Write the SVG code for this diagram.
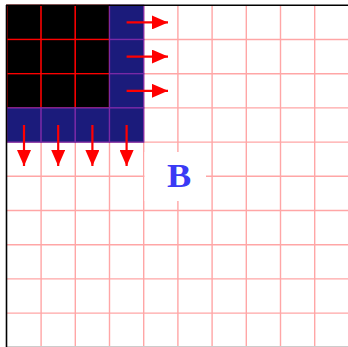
<svg xmlns="http://www.w3.org/2000/svg" width="348" height="347" viewBox="0 0 348 347">
<style>
.grid{stroke:#ffa6a6;stroke-width:1.4;fill:none}
.blk{fill:#000;stroke:#ff0000;stroke-width:1.3}
.blu{fill:#1b1b7b;stroke:#7a2aa6;stroke-width:1.3}
.arr{stroke:#ff0000;stroke-width:2.2;fill:none;marker-end:url(#ah)}
.lbl{font-family:"Liberation Serif",serif;font-size:33px;font-weight:bold;fill:#3a3af5}
</style>
<defs>
<marker id="ah" markerUnits="userSpaceOnUse" markerWidth="16" markerHeight="14" refX="16" refY="7" orient="auto">
<path d="M0,0 L16,7 L0,14 Z" fill="#ff0000"/>
</marker>
</defs>
<rect x="0" y="0" width="348" height="347" fill="#fff"/>
<g id="grid" class="grid">
<path d="M41.1,5 V347 M75.3,5 V347 M109.5,5 V347 M143.7,5 V347 M177.9,5 V347 M212.1,5 V347 M246.3,5 V347 M280.5,5 V347 M314.7,5 V347"/>
<path d="M7,39.5 H348 M7,73.7 H348 M7,107.9 H348 M7,142.1 H348 M7,176.3 H348 M7,210.5 H348 M7,244.7 H348 M7,278.9 H348 M7,313.1 H348"/>
<path d="M7,346.6 H348" stroke="#cccccc"/>
</g>
<g id="black-cells">
<rect class="blk" x="6.9" y="5.3" width="34.2" height="34.2"/>
<rect class="blk" x="41.1" y="5.3" width="34.2" height="34.2"/>
<rect class="blk" x="75.3" y="5.3" width="34.2" height="34.2"/>
<rect class="blk" x="6.9" y="39.5" width="34.2" height="34.2"/>
<rect class="blk" x="41.1" y="39.5" width="34.2" height="34.2"/>
<rect class="blk" x="75.3" y="39.5" width="34.2" height="34.2"/>
<rect class="blk" x="6.9" y="73.7" width="34.2" height="34.2"/>
<rect class="blk" x="41.1" y="73.7" width="34.2" height="34.2"/>
<rect class="blk" x="75.3" y="73.7" width="34.2" height="34.2"/>
</g>
<g id="blue-cells">
<rect class="blu" x="109.5" y="5.3" width="34.2" height="34.2"/>
<rect class="blu" x="109.5" y="39.5" width="34.2" height="34.2"/>
<rect class="blu" x="109.5" y="73.7" width="34.2" height="34.2"/>
<rect class="blu" x="6.9" y="107.9" width="34.2" height="34.2"/>
<rect class="blu" x="41.1" y="107.9" width="34.2" height="34.2"/>
<rect class="blu" x="75.3" y="107.9" width="34.2" height="34.2"/>
<rect class="blu" x="109.5" y="107.9" width="34.2" height="34.2"/>
</g>
<g id="axes">
<path d="M6.5,5 V347" stroke="#000" stroke-width="1.6"/>
<path d="M6,5.3 H348" stroke="#000" stroke-width="1.6"/>
</g>
<g id="connectors">
<path class="arr" d="M126.6,22.4 H168"/>
<path class="arr" d="M126.6,56.6 H168"/>
<path class="arr" d="M126.6,90.8 H168"/>
<path class="arr" d="M24,125 V166"/>
<path class="arr" d="M58.2,125 V166"/>
<path class="arr" d="M92.4,125 V166"/>
<path class="arr" d="M126.6,125 V166"/>
</g>
<g id="label-B">
<rect x="144.5" y="152" width="61.5" height="49" fill="#fff"/>
<text class="lbl" text-anchor="middle" transform="translate(179.2,187.3) scale(1.1,1)">B</text>
</g>
</svg>
